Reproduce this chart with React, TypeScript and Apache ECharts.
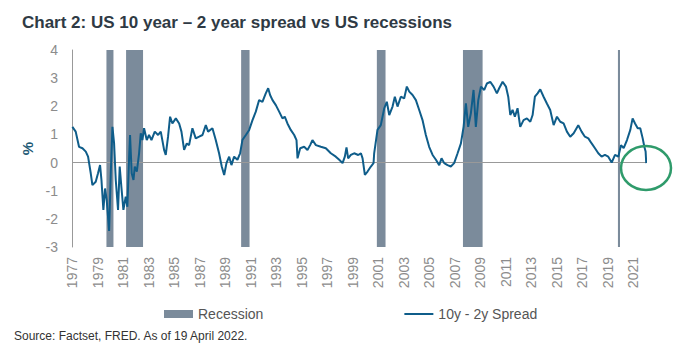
import React, { useEffect, useRef } from "react";
import * as echarts from "echarts";

// Axis origin (data start, April 1977) — axis counted in years from here
const X0 = 1977.3;
const X_SPAN = 45;

const yTicks = [-3, -2, -1, 0, 1, 2, 3, 4];

// NBER recessions [start, end] in decimal years
const recessions: [number, number][] = [
  [1980.0, 1980.55],
  [1981.54, 1982.87],
  [1990.56, 1991.22],
  [2001.2, 2001.88],
  [2007.95, 2009.49],
  [2020.1, 2020.26],
];

// 10y - 2y spread, [decimal year, %]
const spreadSeries: [number, number][] = [
  [1977.33, 1.27], [1977.59, 1.1], [1977.85, 0.56], [1978.12, 0.51], [1978.38, 0.39],
  [1978.56, 0.21], [1978.77, -0.38], [1978.9, -0.8], [1979.16, -0.68], [1979.34, -0.38],
  [1979.5, -0.09], [1979.61, -0.62], [1979.76, -1.68], [1979.89, -0.92], [1980.02, -1.33],
  [1980.21, -2.43], [1980.34, -0.38], [1980.47, 1.27], [1980.6, 0.68], [1980.73, -0.62],
  [1980.91, -1.68], [1981.04, -0.14], [1981.17, -0.86], [1981.33, -1.68], [1981.51, -1.21],
  [1981.64, -1.57], [1981.78, 0.21], [1981.85, 0.98], [1981.98, -0.38], [1982.12, -0.62],
  [1982.22, -0.14], [1982.38, -0.32], [1982.56, 0.33], [1982.69, 1.04], [1982.82, 0.8],
  [1982.95, 1.22], [1983.16, 0.8], [1983.34, 0.98], [1983.53, 0.8], [1983.79, 1.1],
  [1984.05, 0.98], [1984.26, 1.1], [1984.52, 0.45], [1984.65, 0.27], [1984.83, 0.92],
  [1984.99, 1.63], [1985.17, 1.39], [1985.44, 1.57], [1985.7, 1.39], [1985.88, 1.1],
  [1986.09, 0.45], [1986.3, 0.68], [1986.48, 0.62], [1986.74, 1.22], [1987.0, 0.86],
  [1987.27, 0.92], [1987.53, 0.98], [1987.79, 1.33], [1987.97, 1.1], [1988.31, 1.22],
  [1988.57, 0.8], [1988.83, 0.33], [1989.04, -0.14], [1989.23, -0.44], [1989.41, -0.02],
  [1989.62, 0.21], [1989.8, -0.09], [1990.01, 0.21], [1990.27, 0.1], [1990.48, 0.33],
  [1990.66, 0.8], [1990.93, 0.98], [1991.19, 1.16], [1991.45, 1.51], [1991.71, 1.81],
  [1991.97, 2.22], [1992.23, 2.16], [1992.49, 2.46], [1992.68, 2.64], [1992.83, 2.4],
  [1993.02, 2.22], [1993.28, 2.04], [1993.54, 1.81], [1993.8, 1.57], [1993.98, 1.63],
  [1994.19, 1.39], [1994.45, 1.16], [1994.72, 0.98], [1994.9, 0.8], [1994.98, 0.15],
  [1995.19, 0.51], [1995.5, 0.56], [1995.76, 0.45], [1995.97, 0.62], [1996.15, 0.8],
  [1996.42, 0.62], [1996.81, 0.56], [1997.2, 0.51], [1997.59, 0.33], [1997.98, 0.21],
  [1998.25, 0.1], [1998.51, -0.02], [1998.69, 0.21], [1998.82, 0.54], [1998.95, 0.15],
  [1999.16, 0.27], [1999.42, 0.33], [1999.74, 0.27], [1999.95, 0.33], [2000.08, 0.15],
  [2000.26, -0.44], [2000.47, -0.32], [2000.73, -0.14], [2000.94, -0.02], [2000.99, 0.33],
  [2001.25, 1.16], [2001.51, 1.33], [2001.78, 1.93], [2001.98, 2.16], [2002.17, 1.69],
  [2002.43, 1.99], [2002.61, 2.34], [2002.82, 1.99], [2003.08, 2.34], [2003.34, 2.28],
  [2003.55, 2.7], [2003.74, 2.52], [2004.0, 2.4], [2004.26, 2.22], [2004.52, 1.87],
  [2004.78, 1.51], [2005.04, 0.98], [2005.3, 0.56], [2005.57, 0.27], [2005.83, 0.1],
  [2006.09, -0.09], [2006.27, 0.15], [2006.48, -0.02], [2006.74, -0.09], [2007.0, -0.14],
  [2007.26, -0.02], [2007.53, 0.33], [2007.79, 0.68], [2008.0, 1.27], [2008.18, 2.1],
  [2008.36, 1.27], [2008.57, 1.75], [2008.78, 2.58], [2008.96, 1.27], [2009.15, 2.22],
  [2009.36, 2.7], [2009.62, 2.58], [2009.83, 2.81], [2010.09, 2.87], [2010.35, 2.7],
  [2010.61, 2.46], [2010.79, 2.64], [2011.06, 2.87], [2011.32, 2.7], [2011.5, 2.34],
  [2011.66, 1.69], [2011.84, 1.87], [2012.02, 1.63], [2012.23, 1.93], [2012.44, 1.27],
  [2012.7, 1.51], [2012.96, 1.57], [2013.23, 1.45], [2013.41, 1.69], [2013.59, 2.34],
  [2013.8, 2.46], [2014.01, 2.6], [2014.27, 2.34], [2014.53, 2.1], [2014.79, 1.87],
  [2015.06, 1.33], [2015.32, 1.63], [2015.58, 1.45], [2015.84, 1.39], [2016.1, 1.1],
  [2016.36, 0.92], [2016.63, 1.04], [2016.99, 1.33], [2017.25, 1.1], [2017.51, 0.92],
  [2017.78, 0.86], [2018.04, 0.68], [2018.3, 0.51], [2018.56, 0.33], [2018.82, 0.21],
  [2019.08, 0.27], [2019.34, 0.21], [2019.61, 0.0], [2019.87, 0.27], [2020.13, 0.21],
  [2020.34, 0.62], [2020.55, 0.51], [2020.81, 0.8], [2021.07, 1.16], [2021.25, 1.57],
  [2021.44, 1.39], [2021.65, 1.22], [2021.85, 1.22], [2022.04, 0.86], [2022.17, 0.56],
  [2022.27, 0.39], [2022.32, -0.02],
];

const TITLE = "Chart 2: US 10 year \u2013 2 year spread vs US recessions";
const SOURCE = "Source: Factset, FRED. As of 19 April 2022.";
const FONT = "'Liberation Sans', Arial, Helvetica, sans-serif";
const LINE_COLOR = "#0f5d8a";
const REC_COLOR = "#7b8b9b";

export default function App() {
  const ref = useRef<HTMLDivElement>(null);

  useEffect(() => {
    document.body.style.margin = "0";
    if (!ref.current) return;
    const chart = echarts.init(ref.current, undefined, { renderer: "svg" });
    chart.setOption({
      animation: false,
      textStyle: { fontFamily: FONT },
      title: {
        text: TITLE,
        left: 17,
        top: 9,
        textStyle: { fontSize: 17, fontWeight: "bold", color: "#2f3a44", fontFamily: FONT },
      },
      legend: {
        left: 159,
        top: 302,
        itemWidth: 29,
        itemHeight: 8,
        itemGap: 141,
        textStyle: { fontSize: 14, color: "#555", fontFamily: FONT },
        data: [
          { name: "Recession", icon: "rect", itemStyle: { color: REC_COLOR } },
          { name: "10y - 2y Spread", icon: "path://M0 0H29V2H0Z", itemStyle: { color: LINE_COLOR } },
        ],
      },
      graphic: [
        {
          type: "text",
          left: 14,
          top: 330,
          style: { text: SOURCE, fontSize: 12, fill: "#333", fontFamily: FONT },
        },
        {
          type: "ellipse",
          shape: { cx: 646, cy: 168, rx: 25, ry: 22 },
          style: { fill: "none", stroke: "#2f9b6b", lineWidth: 2.5 },
          z: 100,
        },
      ],
      grid: { left: 72, right: 42, top: 50, bottom: 107 },
      xAxis: {
        type: "value",
        min: 0,
        max: X_SPAN,
        interval: 2,
        axisLine: { show: false },
        axisTick: { show: false },
        splitLine: { show: false },
        axisLabel: {
          rotate: 90,
          margin: 10,
          fontSize: 14,
          color: "#8c8c8c",
          showMaxLabel: false,
          formatter: (v: number) => String(Math.round(X0 + v - 0.3)),
        },
      },
      yAxis: {
        type: "value",
        min: yTicks[0],
        max: yTicks[yTicks.length - 1],
        interval: 1,
        name: "%",
        nameLocation: "middle",
        nameGap: 37,
        nameRotate: 90,
        nameTextStyle: { fontSize: 15, color: "#235b76", fontWeight: "bold" },
        axisLine: { show: true, onZero: false, lineStyle: { color: "#999", width: 1 } },
        axisTick: { show: false },
        splitLine: { show: false },
        axisLabel: { fontSize: 14, color: "#8c8c8c", margin: 14 },
      },
      series: [
        {
          name: "Recession",
          type: "line",
          data: [],
          itemStyle: { color: REC_COLOR },
          markArea: {
            silent: true,
            itemStyle: { color: REC_COLOR, opacity: 1 },
            data: recessions.map(([s, e]) => [{ xAxis: s - X0 }, { xAxis: e - X0 }]),
          },
        },
        {
          name: "10y - 2y Spread",
          type: "line",
          symbol: "none",
          data: spreadSeries.map(([t, v]) => [t - X0, v]),
          lineStyle: { color: LINE_COLOR, width: 2 },
          itemStyle: { color: LINE_COLOR },
          z: 5,
          markLine: {
            silent: true,
            symbol: "none",
            label: { show: false },
            lineStyle: { color: "#999", width: 1, type: "solid" },
            data: [{ yAxis: 0 }],
          },
        },
      ],
    });
    return () => chart.dispose();
  }, []);

  return <div ref={ref} style={{ width: 688, height: 354 }} />;
}
